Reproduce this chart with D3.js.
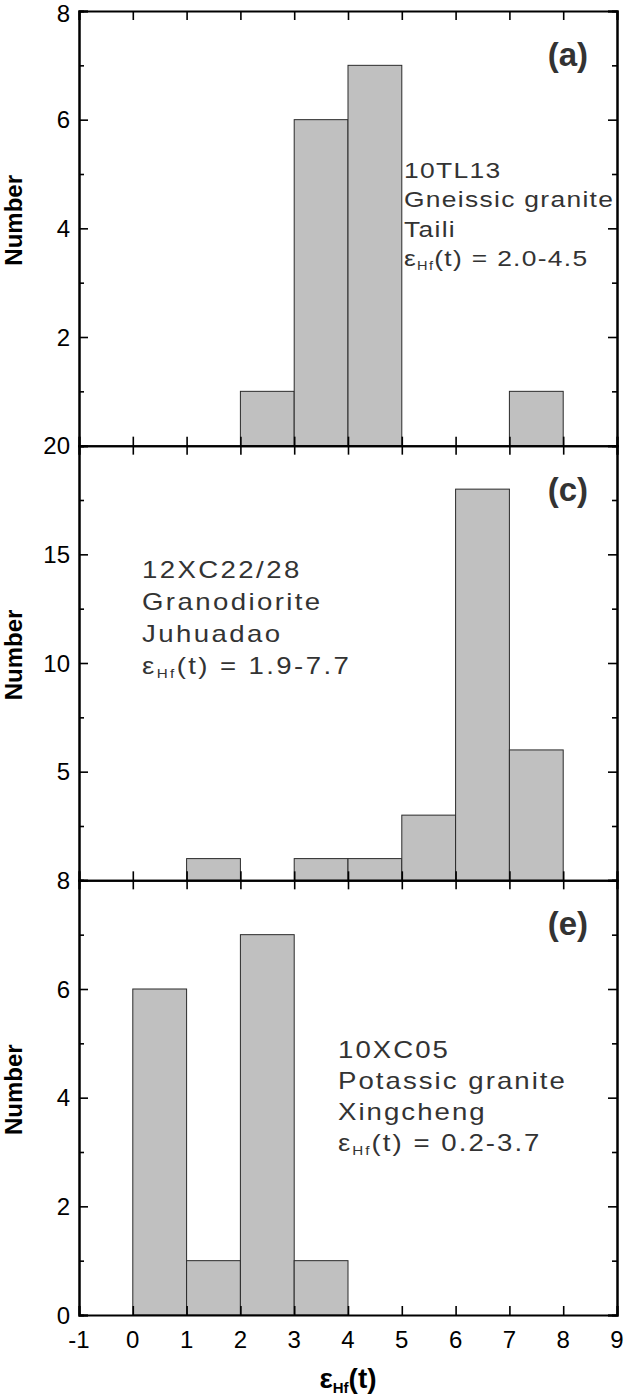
<!DOCTYPE html>
<html>
<head>
<meta charset="utf-8">
<script src="https://cdn.jsdelivr.net/npm/d3@7"></script>
<style>
  html, body { margin: 0; padding: 0; background: #fff; }
  svg { display: block; }
  text { font-family: "Liberation Sans", Arial, sans-serif; }
</style>
</head>
<body>
<svg id="chart" width="624" height="1398"></svg>
<script>
// ---------- data ----------
const xTickValues = [-1, 0, 1, 2, 3, 4, 5, 6, 7, 8, 9];
const binWidth = 1;

const binStartsA = [2, 3, 4, 7];
const countsA    = [1, 6, 7, 1];
const binStartsC = [1, 3, 4, 5, 6, 7];
const countsC    = [1, 1, 1, 3, 18, 6];
const binStartsE = [0, 1, 2, 3];
const countsE    = [6, 1, 7, 1];

const yMaxes = [8, 20, 8];
const yMajorA = [2, 4, 6, 8];
const yMajorC = [5, 10, 15, 20];
const yMajorE = [0, 2, 4, 6, 8];
const yMinorA = [1, 3, 5, 7];
const yMinorC = [2.5, 7.5, 12.5, 17.5];
const yMinorE = [1, 3, 5, 7];

const panelLetters = ["(a)", "(c)", "(e)"];
const notesA = ["10TL13", "Gneissic granite", "Taili", "2.0-4.5"];
const notesC = ["12XC22/28", "Granodiorite", "Juhuadao", "1.9-7.7"];
const notesE = ["10XC05", "Potassic granite", "Xingcheng", "0.2-3.7"];

// ---------- layout ----------
const svg = d3.select("#chart");
const left = 79, right = 617, top0 = 11, bottom = 1315;
const ph = (bottom - top0) / 3;
const x = d3.scaleLinear().domain([-1, 9]).range([left, right]);

const panels = [
  { starts: binStartsA, counts: countsA, major: yMajorA, minor: yMinorA, notes: notesA,
    noteX: 404, noteY: 178, noteGap: 29.5, fs: 22, ls: 1.1 },
  { starts: binStartsC, counts: countsC, major: yMajorC, minor: yMinorC, notes: notesC,
    noteX: 142, noteY: 578, noteGap: 32, fs: 23, ls: 2 },
  { starts: binStartsE, counts: countsE, major: yMajorE, minor: yMinorE, notes: notesE,
    noteX: 338, noteY: 1058, noteGap: 31, fs: 23, ls: 1.7 }
];

panels.forEach((p, i) => {
  const pt = top0 + i * ph, pb = pt + ph;
  const y = d3.scaleLinear().domain([0, yMaxes[i]]).range([pb, pt]);
  const g = svg.append("g");

  // bars
  g.selectAll("rect.bar").data(p.starts.map((s, k) => ({ s, c: p.counts[k] })))
    .enter().append("rect")
    .attr("x", d => x(d.s))
    .attr("width", d => x(d.s + binWidth) - x(d.s))
    .attr("y", d => y(d.c))
    .attr("height", d => y(0) - y(d.c))
    .attr("fill", "#c0c0c0")
    .attr("stroke", "#2a2a2a")
    .attr("stroke-width", 1);

  // axes with inward ticks
  const fmtNone = () => "";
  const bottomAx = d3.axisBottom(x).tickValues(xTickValues).tickSize(-9).tickFormat(fmtNone);
  const topAx = d3.axisTop(x).tickValues(xTickValues).tickSize(-9).tickFormat(fmtNone);
  const leftMaj = d3.axisLeft(y).tickValues(p.major).tickSize(-9).tickFormat(fmtNone);
  const leftMin = d3.axisLeft(y).tickValues(p.minor).tickSize(-5).tickFormat(fmtNone);
  const rightMaj = d3.axisRight(y).tickValues(p.major).tickSize(-9).tickFormat(fmtNone);
  const rightMin = d3.axisRight(y).tickValues(p.minor).tickSize(-5).tickFormat(fmtNone);

  const axes = [
    [bottomAx, `translate(0,${pb})`], [topAx, `translate(0,${pt})`],
    [leftMaj, `translate(${left},0)`], [leftMin, `translate(${left},0)`],
    [rightMaj, `translate(${right},0)`], [rightMin, `translate(${right},0)`]
  ];
  axes.forEach(([ax, tr]) => {
    const a = g.append("g").attr("transform", tr).call(ax);
    a.select(".domain").attr("stroke", "#000").attr("stroke-width", 2);
    a.selectAll(".tick line").attr("stroke", "#000").attr("stroke-width", 1.6);
  });

  // y tick labels (kept inside the page at the very top)
  g.selectAll("text.ylab").data(p.major).enter().append("text")
    .attr("x", 70).attr("y", d => Math.max(y(d) + 8.5, 22))
    .attr("text-anchor", "end")
    .attr("font-size", 24)
    .attr("fill", "#000")
    .text(d => d);

  // y title
  const cy = (pt + pb) / 2 - 8;
  g.append("text")
    .attr("transform", `translate(22,${cy}) rotate(-90)`)
    .attr("text-anchor", "middle")
    .attr("font-size", 24)
    .attr("font-weight", "bold")
    .attr("fill", "#000")
    .text("Number");

  // panel letter
  g.append("text")
    .attr("x", 588).attr("y", pt + 55)
    .attr("text-anchor", "end")
    .attr("font-size", 33)
    .attr("font-weight", "bold")
    .attr("fill", "#333")
    .text(panelLetters[i]);

  // annotation
  const ng = g.append("g")
    .attr("transform", `translate(${p.noteX},${p.noteY}) scale(1.2,1)`)
    .attr("fill", "#333");
  p.notes.forEach((line, k) => {
    const t = ng.append("text")
      .attr("x", 0).attr("y", k * p.noteGap)
      .attr("font-size", p.fs)
      .attr("letter-spacing", p.ls);
    if (k < 3) {
      t.text(line);
    } else {
      t.append("tspan").text("ε");
      t.append("tspan").attr("font-size", p.fs * 0.55).attr("dy", 4).text("Hf");
      t.append("tspan").attr("dy", -4).text("(t) = " + line);
    }
  });

  // x tick labels (bottom panel only)
  if (i === 2) {
    g.selectAll("text.xlab").data(xTickValues).enter().append("text")
      .attr("x", d => x(d)).attr("y", pb + 33)
      .attr("text-anchor", "middle")
      .attr("font-size", 24)
      .attr("fill", "#000")
      .text(d => d);
  }
});

// x title
const xt = svg.append("text")
  .attr("x", (left + right) / 2).attr("y", 1388)
  .attr("text-anchor", "middle")
  .attr("font-weight", "bold")
  .attr("font-size", 28)
  .attr("fill", "#000");
xt.append("tspan").text("ε");
xt.append("tspan").attr("font-size", 15).attr("dy", 5).text("Hf");
xt.append("tspan").attr("dy", -5).text("(t)");
</script>
</body>
</html>
